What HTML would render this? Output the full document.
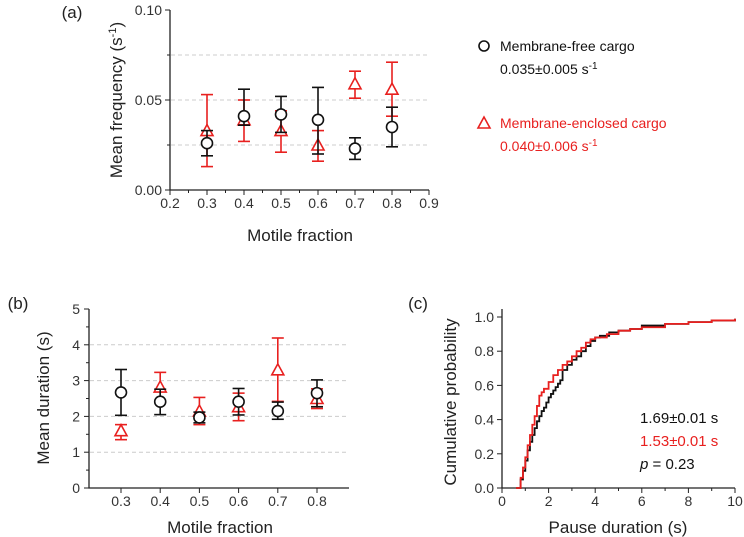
<!DOCTYPE html>
<html><head><meta charset="utf-8"><style>
body{margin:0;background:#fff}
svg{display:block;font-family:"Liberation Sans",sans-serif}
</style></head><body>
<svg id="s" width="744" height="537" viewBox="0 0 744 537"></svg>
<script>
// Panel (a) data
const catsA=[0.3,0.4,0.5,0.6,0.7,0.8];
const freeFreq=[0.026,0.041,0.042,0.039,0.023,0.035];
const freeFreqLo=[0.019,0.036,0.032,0.020,0.017,0.024];
const freeFreqHi=[0.033,0.056,0.052,0.057,0.029,0.046];
const encFreq=[0.033,0.039,0.033,0.025,0.059,0.056];
const encFreqLo=[0.013,0.027,0.021,0.016,0.051,0.041];
const encFreqHi=[0.053,0.050,0.044,0.033,0.066,0.071];
const xTicksA=[0.2,0.3,0.4,0.5,0.6,0.7,0.8,0.9];
const yTicksA=[0,0.05,0.10];
const yTickLabelsA=["0.00","0.05","0.10"];
// Panel (b) data
const catsB=[0.3,0.4,0.5,0.6,0.7,0.8];
const freeDur=[2.67,2.41,1.97,2.41,2.15,2.65];
const freeDurLo=[2.03,2.05,1.82,2.04,1.92,2.27];
const freeDurHi=[3.31,2.76,2.12,2.78,2.40,3.02];
const encDur=[1.60,2.82,2.15,2.27,3.30,2.50];
const encDurLo=[1.35,2.40,1.77,1.88,2.42,2.22];
const encDurHi=[1.77,3.23,2.53,2.65,4.19,2.77];
const yTicksB=[0,1,2,3,4,5];
// Panel (c) data
const cdfFreeX=[0.6,0.8,0.9,1.0,1.1,1.2,1.3,1.4,1.5,1.6,1.7,1.8,1.9,2.0,2.1,2.2,2.3,2.4,2.5,2.6,2.8,3.0,3.2,3.4,3.6,3.8,4.0,4.2,4.6,5.0,5.5,6.0,7.0,8.0,9.0,10];
const cdfFreeY=[0,0.05,0.10,0.16,0.22,0.27,0.31,0.35,0.39,0.42,0.45,0.47,0.50,0.53,0.55,0.57,0.59,0.61,0.63,0.69,0.72,0.75,0.77,0.80,0.83,0.86,0.88,0.89,0.91,0.92,0.93,0.95,0.96,0.97,0.98,0.99];
const cdfEncX=[0.6,0.8,0.9,1.0,1.1,1.2,1.3,1.4,1.5,1.6,1.7,1.8,2.0,2.2,2.4,2.6,2.8,3.0,3.2,3.4,3.6,3.8,4.0,4.5,5.0,5.5,6.0,7.0,8.0,9.0,10];
const cdfEncY=[0,0.06,0.12,0.18,0.25,0.31,0.37,0.42,0.48,0.54,0.56,0.58,0.62,0.66,0.69,0.72,0.74,0.77,0.80,0.82,0.85,0.87,0.88,0.90,0.92,0.93,0.94,0.96,0.97,0.98,0.99];
const xTicksC=[0,2,4,6,8,10];
const yTicksC=[0,0.2,0.4,0.6,0.8,1.0];

const S=document.getElementById('s');const NS='http://www.w3.org/2000/svg';
function mk(t,a,p){const e=document.createElementNS(NS,t);for(const k in a)e.setAttribute(k,a[k]);(p||S).appendChild(e);return e;}
function txt(x,y,s,o,name){const e=mk('text',Object.assign({x:x,y:y,'font-size':14,fill:'#333','text-anchor':'middle'},o||{}));e.textContent=s;return e;}
const RED='#e8201f';

function errPanel(X,Y,cats,series,name){
  series.forEach(sr=>{
    cats.forEach((c,i)=>{
      const x=X(c);const g=mk('g',{stroke:sr.col,'stroke-width':1.6,fill:'none'});
      
      mk('line',{x1:x,x2:x,y1:Y(sr.lo[i]),y2:Y(sr.hi[i])},g);
      mk('line',{x1:x-6,x2:x+6,y1:Y(sr.lo[i]),y2:Y(sr.lo[i])},g);
      mk('line',{x1:x-6,x2:x+6,y1:Y(sr.hi[i]),y2:Y(sr.hi[i])},g);
      const y=Y(sr.v[i]);
      if(sr.key==='free') mk('circle',{cx:x,cy:y,r:5.5,fill:'#fff'},g);
      else mk('polygon',{points:`${x},${y-6} ${x-6},${y+5} ${x+6},${y+5}`,fill:'#fff'},g);
    });
  });
}
function grid(x1,x2,y,name){const l=mk('line',{x1:x1,x2:x2,y1:y,y2:y,stroke:'#ccc','stroke-dasharray':'4,3','stroke-width':1});}
function axes(x0,x1,y0,y1,name){const p=mk('path',{d:`M${x0},${y1} V${y0} H${x1}`,stroke:'#222','stroke-width':1.3,fill:'none'});}

// ---- Panel A ----
const XA=v=>170+(v-0.2)/0.7*259, YA=v=>190-v*1800;
[0.025,0.05,0.075].forEach(v=>grid(171,429,YA(v),'grid-a'));
axes(170,429,190,10,'axes-a');
xTicksA.forEach(t=>{mk('line',{x1:XA(t),x2:XA(t),y1:190,y2:195,stroke:'#222'});txt(XA(t),208,t.toFixed(1),{},'x-tick-a');});
xTicksA.slice(0,-1).forEach(t=>mk('line',{x1:XA(t+0.05),x2:XA(t+0.05),y1:190,y2:193,stroke:'#222'}));
yTicksA.forEach((t,i)=>{mk('line',{x1:165,x2:170,y1:YA(t),y2:YA(t),stroke:'#222'});txt(162,YA(t)+5,yTickLabelsA[i],{'text-anchor':'end'},'y-tick-a');});
[0.025,0.075].forEach(t=>mk('line',{x1:167,x2:170,y1:YA(t),y2:YA(t),stroke:'#222'}));
errPanel(XA,YA,catsA,[{key:'enc',col:RED,v:encFreq,lo:encFreqLo,hi:encFreqHi},{key:'free',col:'#111',v:freeFreq,lo:freeFreqLo,hi:freeFreqHi}],'a');
txt(300,241,'Motile fraction',{'font-size':17,fill:'#222'},'x-axis-title-a');
const ya=txt(0,0,'',{'font-size':17,fill:'#222',transform:'translate(122,100) rotate(-90)'},'y-axis-title-a');
ya.innerHTML='Mean frequency (s<tspan dy="-6" font-size="11">-1</tspan><tspan dy="6">)</tspan>';
txt(72,18,'(a)',{'font-size':17,fill:'#222'},'panel-label-a');
// legend
const lg1=mk('circle',{cx:484,cy:46,r:5,fill:'#fff',stroke:'#111','stroke-width':1.6});
txt(500,51,'Membrane-free cargo',{'text-anchor':'start','font-size':14,fill:'#111'},'legend-entry-free');
const l2=txt(500,74,'',{'text-anchor':'start','font-size':14,fill:'#111'},'legend-value-free');l2.innerHTML='0.035±0.005 s<tspan dy="-5" font-size="10">-1</tspan>';
const lg2=mk('polygon',{points:'484,117 478,128 490,128',fill:'#fff',stroke:RED,'stroke-width':1.6});
txt(500,128,'Membrane-enclosed cargo',{'text-anchor':'start','font-size':14,fill:RED},'legend-entry-enclosed');
const l4=txt(500,151,'',{'text-anchor':'start','font-size':14,fill:RED},'legend-value-enclosed');l4.innerHTML='0.040±0.006 s<tspan dy="-5" font-size="10">-1</tspan>';

// ---- Panel B ----
const XB=v=>121+(v-0.3)/0.5*196, YB=v=>488-v*35.8;
[1,2,3,4].forEach(v=>grid(90,349,YB(v),'grid-b'));
axes(89,349,488,309,'axes-b');
catsB.forEach(t=>{mk('line',{x1:XB(t),x2:XB(t),y1:488,y2:493,stroke:'#222'});txt(XB(t),506,t.toFixed(1),{},'x-tick-b');});
yTicksB.forEach(t=>{mk('line',{x1:84,x2:89,y1:YB(t),y2:YB(t),stroke:'#222'});txt(80,YB(t)+5,String(t),{'text-anchor':'end'},'y-tick-b');});
[0.5,1.5,2.5,3.5,4.5].forEach(t=>mk('line',{x1:86,x2:89,y1:YB(t),y2:YB(t),stroke:'#222'}));
errPanel(XB,YB,catsB,[{key:'enc',col:RED,v:encDur,lo:encDurLo,hi:encDurHi},{key:'free',col:'#111',v:freeDur,lo:freeDurLo,hi:freeDurHi}],'b');
txt(220,533,'Motile fraction',{'font-size':17,fill:'#222'},'x-axis-title-b');
txt(0,0,'Mean duration (s)',{'font-size':17,fill:'#222',transform:'translate(49,398) rotate(-90)'},'y-axis-title-b');
txt(18,309,'(b)',{'font-size':17,fill:'#222'},'panel-label-b');

// ---- Panel C ----
const XC=v=>502+v*23.3, YC=v=>488-v*171;
axes(502,735,488,309,'axes-c');
xTicksC.forEach(t=>{mk('line',{x1:XC(t),x2:XC(t),y1:488,y2:493,stroke:'#222'});txt(XC(t),506,String(t),{},'x-tick-c');});
[1,3,5,7,9].forEach(t=>mk('line',{x1:XC(t),x2:XC(t),y1:488,y2:491,stroke:'#222'}));
yTicksC.forEach(t=>{mk('line',{x1:497,x2:502,y1:YC(t),y2:YC(t),stroke:'#222'});txt(494,YC(t)+5,t.toFixed(1),{'text-anchor':'end'},'y-tick-c');});
function cdf(xs,ys,col,name){let d='';xs.forEach((x,i)=>{if(!i)d+='M'+XC(x)+','+YC(ys[i]);else d+=' H'+XC(x)+' V'+YC(ys[i]);});const p=mk('path',{d:d,stroke:col,'stroke-width':1.8,fill:'none'});}
cdf(cdfFreeX,cdfFreeY,'#111','cdf-line-free');
cdf(cdfEncX,cdfEncY,RED,'cdf-line-enclosed');
txt(640,423,'1.69±0.01 s',{'text-anchor':'start','font-size':15,fill:'#111'},'stat-free');
txt(640,446,'1.53±0.01 s',{'text-anchor':'start','font-size':15,fill:RED},'stat-enclosed');
const pv=txt(640,469,'',{'text-anchor':'start','font-size':15,fill:'#111'},'p-value');pv.innerHTML='<tspan font-style="italic">p</tspan> = 0.23';
txt(618,533,'Pause duration (s)',{'font-size':17,fill:'#222'},'x-axis-title-c');
txt(0,0,'Cumulative probability',{'font-size':17,fill:'#222',transform:'translate(456,402) rotate(-90)'},'y-axis-title-c');
txt(418,309,'(c)',{'font-size':17,fill:'#222'},'panel-label-c');
</script>
</body></html>
